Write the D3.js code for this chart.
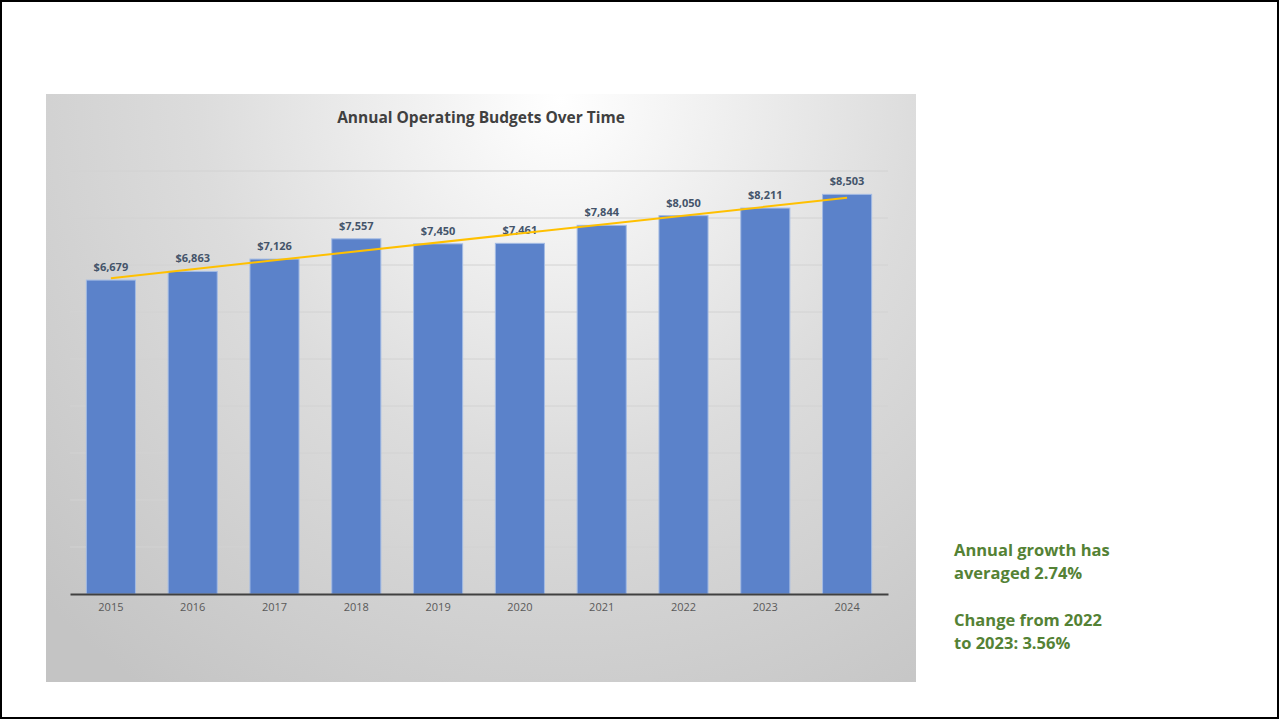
<!DOCTYPE html>
<html>
<head>
<meta charset="utf-8">
<script src="https://cdn.jsdelivr.net/npm/d3@7"></script>
<style>
  body { margin: 0; background: #fff; }
  svg { display: block; font-family: "Open Sans", "Noto Sans", sans-serif; }
</style>
</head>
<body>
<div id="chart"></div>
<script>
// Chart data
var years = ['2015', '2016', '2017', '2018', '2019', '2020', '2021', '2022', '2023', '2024'];
var budgets = [6679, 6863, 7126, 7557, 7450, 7461, 7844, 8050, 8211, 8503];
var gridTicks = [0, 1000, 2000, 3000, 4000, 5000, 6000, 7000, 8000, 9000];
var notes = [
    ['Annual growth has', 'averaged 2.74%'],
    ['Change from 2022', 'to 2023: 3.56%']
];

var fullWidth = 1279;
var fullHeight = 719;

var svg = d3.select('#chart').append('svg')
    .attr('width', fullWidth)
    .attr('height', fullHeight);

// slide border
svg.append('rect')
    .attr('x', 1).attr('y', 1)
    .attr('width', fullWidth - 2).attr('height', fullHeight - 2)
    .attr('fill', '#fff')
    .attr('stroke', '#000')
    .attr('stroke-width', 2);

// background gradient for the chart box
var defs = svg.append('defs');
var bg = defs.append('radialGradient')
    .attr('id', 'bg')
    .attr('gradientUnits', 'userSpaceOnUse')
    .attr('cx', 560).attr('cy', 100).attr('r', 720);
bg.append('stop').attr('offset', '0%').attr('stop-color', '#ffffff');
bg.append('stop').attr('offset', '50%').attr('stop-color', '#dcdcdc');
bg.append('stop').attr('offset', '100%').attr('stop-color', '#c4c4c4');

var box = { x: 46, y: 94, w: 870, h: 588 };
svg.append('rect')
    .attr('x', box.x).attr('y', box.y)
    .attr('width', box.w).attr('height', box.h)
    .attr('fill', 'url(#bg)');

// Title
svg.append('text')
    .attr('x', box.x + box.w / 2)
    .attr('y', 123)
    .attr('text-anchor', 'middle')
    .style('font-size', '15.5px')
    .style('font-weight', 'bold')
    .style('fill', '#404040')
    .text('Annual Operating Budgets Over Time');

// plot area
var plot = { left: 70, right: 888, top: 171, bottom: 594 };

var xScale = d3.scaleBand()
    .domain(years)
    .range([plot.left, plot.right])
    .paddingInner(0.4)
    .paddingOuter(0.2);

var yScale = d3.scaleLinear()
    .domain([0, 9000])
    .range([plot.bottom, plot.top]);

// gridlines
svg.append('g')
    .selectAll('line')
    .data(gridTicks.slice(1))
    .enter().append('line')
    .attr('x1', plot.left).attr('x2', plot.right)
    .attr('y1', function (d) { return yScale(d); })
    .attr('y2', function (d) { return yScale(d); })
    .attr('stroke', '#d2d2d2')
    .attr('stroke-width', 1);

// bars
var data = years.map(function (y, i) { return { year: y, value: budgets[i] }; });

svg.append('g')
    .selectAll('rect')
    .data(data)
    .enter().append('rect')
    .attr('x', function (d) { return xScale(d.year); })
    .attr('width', xScale.bandwidth())
    .attr('y', function (d) { return yScale(d.value); })
    .attr('height', function (d) { return plot.bottom - yScale(d.value); })
    .attr('fill', '#5b82ca')
    .attr('stroke', '#a3bbe4')
    .attr('stroke-width', 1);

// baseline / x axis
var xAxis = d3.axisBottom(xScale).tickSize(0).tickPadding(9);
var xAxisEle = svg.append('g')
    .attr('transform', 'translate(0,' + plot.bottom + ')')
    .call(xAxis);
xAxisEle.select('.domain')
    .attr('stroke', '#404040')
    .attr('stroke-width', 2);
xAxisEle.selectAll('text')
    .style('font-family', '"Open Sans", "Noto Sans", sans-serif')
    .style('font-size', '11px')
    .style('fill', '#595959');

// trendline (linear least-squares fit of the budgets)
var n = budgets.length;
var meanX = (n - 1) / 2;
var meanY = d3.mean(budgets);
var sxy = d3.sum(budgets, function (v, i) { return (i - meanX) * (v - meanY); });
var sxx = d3.sum(budgets, function (v, i) { return (i - meanX) * (i - meanX); });
var slope = sxy / sxx;
var intercept = meanY - slope * meanX;
var trend = [0, n - 1].map(function (i) {
    return [xScale(years[i]) + xScale.bandwidth() / 2, yScale(intercept + slope * i)];
});

// data labels
svg.append('g')
    .selectAll('text')
    .data(data)
    .enter().append('text')
    .attr('x', function (d) { return xScale(d.year) + xScale.bandwidth() / 2; })
    .attr('y', function (d) { return yScale(d.value) - 9; })
    .attr('text-anchor', 'middle')
    .style('font-size', '11px')
    .style('font-weight', 'bold')
    .style('fill', '#44546a')
    .text(function (d) { return '$' + d3.format(',')(d.value); });

svg.append('path')
    .attr('d', d3.line()(trend))
    .attr('stroke', '#ffc000')
    .attr('stroke-width', 2)
    .attr('fill', 'none');

// side notes
var noteG = svg.append('g')
    .style('font-size', '16.5px')
    .style('font-weight', 'bold')
    .style('fill', '#548235');

notes.forEach(function (lines, k) {
    lines.forEach(function (line, j) {
        noteG.append('text')
            .attr('x', 954)
            .attr('y', 556 + k * 70 + j * 23)
            .text(line);
    });
});
</script>
</body>
</html>
